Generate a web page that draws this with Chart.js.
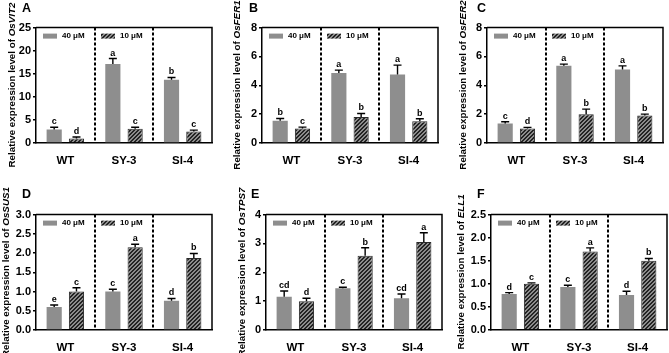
<!DOCTYPE html>
<html>
<head>
<meta charset="utf-8">
<script src="https://cdn.jsdelivr.net/npm/chart.js@4.4.1/dist/chart.umd.min.js"></script>
<style>
  body { margin: 0; background: #fff; width: 669px; height: 353px; position: relative; overflow: hidden;
         font-family: "Liberation Sans", Arial, sans-serif; }
  canvas { position: absolute; }
  .ytitle { position: absolute; font-weight: bold; font-size: 9.8px; white-space: nowrap; color: #000;
            transform: translate(-50%, -50%) rotate(-90deg); }
  .letter { position: absolute; font-weight: bold; font-size: 12.5px; color: #000; }
</style>
</head>
<body>
<script>
const groups = ['WT', 'SY-3', 'SI-4'];
const seriesNames = ['40 μM', '10 μM'];

// A - OsVIT2
const vit2High = [2.9, 17.1, 13.7];
const vit2HighErr = [0.5, 1.2, 0.5];
const vit2HighSig = ['c', 'a', 'b'];
const vit2Low = [1.0, 3.1, 2.5];
const vit2LowErr = [0.3, 0.3, 0.3];
const vit2LowSig = ['d', 'c', 'c'];

// B - OsFER1
const fer1High = [1.55, 4.85, 4.75];
const fer1HighErr = [0.15, 0.2, 0.65];
const fer1HighSig = ['b', 'a', 'a'];
const fer1Low = [1.0, 1.8, 1.5];
const fer1LowErr = [0.1, 0.25, 0.18];
const fer1LowSig = ['c', 'b', 'b'];

// C - OsFER2
const fer2High = [1.35, 5.35, 5.1];
const fer2HighErr = [0.12, 0.12, 0.25];
const fer2HighSig = ['c', 'a', 'a'];
const fer2Low = [1.0, 2.0, 1.9];
const fer2LowErr = [0.08, 0.35, 0.1];
const fer2LowSig = ['d', 'b', 'b'];

// D - OsSUS1
const sus1High = [0.6, 1.0, 0.76];
const sus1HighErr = [0.05, 0.06, 0.06];
const sus1HighSig = ['e', 'c', 'd'];
const sus1Low = [1.0, 2.15, 1.87];
const sus1LowErr = [0.1, 0.08, 0.12];
const sus1LowSig = ['c', 'a', 'b'];

// E - OsTPS7
const tps7High = [1.15, 1.45, 1.1];
const tps7HighErr = [0.2, 0.03, 0.15];
const tps7HighSig = ['cd', 'c', 'cd'];
const tps7Low = [1.0, 2.57, 3.05];
const tps7LowErr = [0.1, 0.28, 0.32];
const tps7LowSig = ['d', 'b', 'a'];

// F - ELL1
const ell1High = [0.78, 0.93, 0.76];
const ell1HighErr = [0.03, 0.04, 0.08];
const ell1HighSig = ['d', 'c', 'd'];
const ell1Low = [1.0, 1.7, 1.5];
const ell1LowErr = [0.02, 0.08, 0.05];
const ell1LowSig = ['c', 'a', 'b'];

const FONT = '"Liberation Sans", Arial, sans-serif';

// hatched fill for the 10 µM bars
function makeHatch() {
  const c = document.createElement('canvas');
  c.width = 4; c.height = 4;
  const g = c.getContext('2d');
  for (let x = 0; x < 4; x++) {
    for (let y = 0; y < 4; y++) {
      g.fillStyle = ((x + y) % 4 < 2) ? '#232323' : '#8c8c8c';
      g.fillRect(x, y, 1, 1);
    }
  }
  return g.createPattern(c, 'repeat');
}
const hatch = makeHatch();

const panels = [
  { tag: 'A', gene: 'OsVIT2', high: vit2High, highErr: vit2HighErr, highSig: vit2HighSig,
    low: vit2Low, lowErr: vit2LowErr, lowSig: vit2LowSig, max: 25, step: 5, dec: 0,
    box: [36, 27, 212, 143], titleX: 11, tagX: 22, tagY: 1 },
  { tag: 'B', gene: 'OsFER1', high: fer1High, highErr: fer1HighErr, highSig: fer1HighSig,
    low: fer1Low, lowErr: fer1LowErr, lowSig: fer1LowSig, max: 8, step: 2, dec: 0,
    box: [262, 27, 438, 143], titleX: 236, tagX: 249, tagY: 1 },
  { tag: 'C', gene: 'OsFER2', high: fer2High, highErr: fer2HighErr, highSig: fer2HighSig,
    low: fer2Low, lowErr: fer2LowErr, lowSig: fer2LowSig, max: 8, step: 2, dec: 0,
    box: [487, 27, 663, 143], titleX: 462, tagX: 477, tagY: 1 },
  { tag: 'D', gene: 'OsSUS1', high: sus1High, highErr: sus1HighErr, highSig: sus1HighSig,
    low: sus1Low, lowErr: sus1LowErr, lowSig: sus1LowSig, max: 3, step: 0.5, dec: 1,
    box: [36, 214, 212, 330], titleX: 5, tagX: 22, tagY: 187 },
  { tag: 'E', gene: 'OsTPS7', high: tps7High, highErr: tps7HighErr, highSig: tps7HighSig,
    low: tps7Low, lowErr: tps7LowErr, lowSig: tps7LowSig, max: 4, step: 1, dec: 0,
    box: [266, 214, 442, 330], titleX: 241, tagX: 251, tagY: 187 },
  { tag: 'F', gene: 'ELL1', high: ell1High, highErr: ell1HighErr, highSig: ell1HighSig,
    low: ell1Low, lowErr: ell1LowErr, lowSig: ell1LowSig, max: 2.5, step: 0.5, dec: 1,
    box: [491, 214, 667, 330], titleX: 460, tagX: 477, tagY: 187 }
];

const extras = {
  id: 'extras',
  afterDatasetsDraw(chart) {
    const ctx = chart.ctx;
    const ys = chart.scales.y;
    ctx.save();
    chart.data.datasets.forEach((ds, d) => {
      const meta = chart.getDatasetMeta(d);
      meta.data.forEach((bar, i) => {
        const top = ys.getPixelForValue(ds.data[i] + ds.err[i]);
        ctx.strokeStyle = '#000';
        ctx.lineWidth = 1.4;
        ctx.beginPath();
        ctx.moveTo(bar.x, bar.y);
        ctx.lineTo(bar.x, top);
        ctx.moveTo(bar.x - 4, top);
        ctx.lineTo(bar.x + 4, top);
        ctx.stroke();
        ctx.fillStyle = '#000';
        ctx.font = 'bold 9px ' + FONT;
        ctx.textAlign = 'center';
        ctx.textBaseline = 'bottom';
        ctx.fillText(ds.sig[i], bar.x, top - 1);
      });
    });
    ctx.restore();
  },
  afterDraw(chart) {
    const ctx = chart.ctx;
    const a = chart.chartArea;
    const xs = chart.scales.x;
    ctx.save();
    ctx.strokeStyle = '#000';
    ctx.lineWidth = 1.5;
    ctx.beginPath();
    ctx.moveTo(a.left, a.top);
    ctx.lineTo(a.right, a.top);
    ctx.lineTo(a.right, a.bottom);
    ctx.stroke();
    // dashed separators between genotypes
    ctx.lineWidth = 2;
    ctx.setLineDash([3, 2]);
    for (let i = 0; i < groups.length - 1; i++) {
      const x = Math.round((xs.getPixelForTick(i) + xs.getPixelForTick(i + 1)) / 2);
      ctx.beginPath();
      ctx.moveTo(x, a.top);
      ctx.lineTo(x, a.bottom);
      ctx.stroke();
    }
    ctx.setLineDash([]);
    // legend inside the plot
    ctx.font = 'bold 8px ' + FONT;
    ctx.textBaseline = 'middle';
    ctx.textAlign = 'left';
    const fills = ['#8e8e8e', hatch];
    const offs = [7, 65];
    seriesNames.forEach((name, k) => {
      ctx.fillStyle = fills[k];
      ctx.fillRect(a.left + offs[k], a.top + 6, 14, 5);
      ctx.fillStyle = '#000';
      ctx.fillText(name, a.left + offs[k] + 19, a.top + 8.5);
    });
    ctx.restore();
  }
};

panels.forEach(p => {
  const [L, T, R, B] = p.box;
  const W = R - L, H = B - T;
  const cv = document.createElement('canvas');
  cv.width = W + 46;
  cv.height = H + 30;
  cv.style.left = (L - 40) + 'px';
  cv.style.top = (T - 8) + 'px';
  document.body.appendChild(cv);

  const title = document.createElement('div');
  title.className = 'ytitle';
  title.style.left = p.titleX + 'px';
  title.style.top = ((T + B) / 2) + 'px';
  title.innerHTML = 'Relative expression level of <i>' + p.gene + '</i>';
  document.body.appendChild(title);

  const tag = document.createElement('div');
  tag.className = 'letter';
  tag.style.left = p.tagX + 'px';
  tag.style.top = p.tagY + 'px';
  tag.textContent = p.tag;
  document.body.appendChild(tag);

  new Chart(cv, {
    type: 'bar',
    data: {
      labels: groups,
      datasets: [
        { label: seriesNames[0], data: p.high, err: p.highErr, sig: p.highSig,
          backgroundColor: '#8e8e8e', categoryPercentage: 0.76, barPercentage: 0.68 },
        { label: seriesNames[1], data: p.low, err: p.lowErr, sig: p.lowSig,
          backgroundColor: hatch, borderColor: '#2a2a2a', borderWidth: 1,
          categoryPercentage: 0.76, barPercentage: 0.68 }
      ]
    },
    options: {
      responsive: false,
      animation: false,
      devicePixelRatio: 1,
      layout: { padding: { top: 8, right: 6, left: 0, bottom: 0 } },
      plugins: { legend: { display: false }, tooltip: { enabled: false } },
      scales: {
        x: {
          grid: { display: false },
          border: { display: true, color: '#000', width: 1.5 },
          ticks: { color: '#000', padding: 3, font: { family: FONT, weight: 'bold', size: 11.5 } },
          afterFit: s => { s.height = 22; }
        },
        y: {
          min: 0, max: p.max,
          grid: { display: true, drawOnChartArea: false, drawTicks: true, tickLength: 3, color: '#000', lineWidth: 1.5 },
          border: { display: true, color: '#000', width: 1.5 },
          ticks: { stepSize: p.step, color: '#000', padding: 2,
                   font: { family: FONT, weight: 'bold', size: 11 },
                   callback: v => Number(v).toFixed(p.dec) },
          afterFit: s => { s.width = 40; }
        }
      }
    },
    plugins: [extras]
  });
});
</script>
</body>
</html>
